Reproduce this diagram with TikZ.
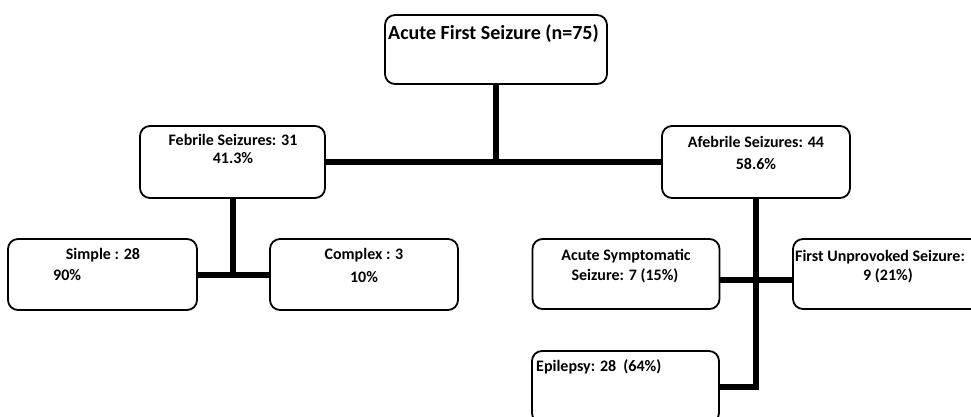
\documentclass[tikz,border=0pt]{standalone}
\usepackage{fontspec}
\setmainfont{Carlito}
\begin{document}
\begin{tikzpicture}[x=1pt,y=-1pt,
  box/.style={draw=black,line width=1.8pt,rounded corners=10pt,inner sep=0pt,outer sep=0pt,fill=white},
  conn/.style={line width=6pt,draw=black},
  lbl/.style={inner sep=0pt,font=\fontsize{16}{19}\selectfont\bfseries},
  ttl/.style={inner sep=0pt,font=\fontsize{20}{24}\selectfont\bfseries}]
\useasboundingbox (0,0) rectangle (971,417);
\clip (0,0) rectangle (971,417);
% boxes
\node[box,minimum width=222pt,minimum height=69pt] (top) at (496,49.5) {};
\node[box,minimum width=185pt,minimum height=72pt] (feb) at (232.5,162) {};
\node[box,minimum width=188pt,minimum height=72pt] (afeb) at (756,162) {};
\node[box,minimum width=189pt,minimum height=71pt] (simple) at (102.5,274.5) {};
\node[box,minimum width=188pt,minimum height=71pt] (complex) at (364,274.5) {};
\node[box,minimum width=187pt,minimum height=70pt] (acute) at (626,274) {};
\node[box,minimum width=188pt,minimum height=70pt] (first) at (887,274) {};
\node[box,minimum width=187pt,minimum height=72pt] (epi) at (625.5,387) {};
% connectors
\draw[conn] (top.south) -- (top.south |- feb.east);
\draw[conn] (feb.east) -- (afeb.west);
\draw[conn] (feb.south) -- (feb.south |- simple.east);
\draw[conn] (simple.east) -- (complex.west);
\coordinate (ah) at (acute.east |- 0,279.5);
\coordinate (fh) at (first.west |- 0,279.5);
\draw[conn] (ah) -- (fh);
\draw[conn,line join=miter] (afeb.south) |- (epi.east);
% labels
\node[ttl,anchor=base west] (tt) at (388,40) {Acute First Seizure (n=75)};
\node[lbl,anchor=base] (f1) at (233,145) {Febrile Seizures: 31};
\node[lbl,anchor=base] (f2) at (233,163.5) {41.3\%};
\node[lbl,anchor=base] (a1) at (756,147.5) {Afebrile Seizures: 44};
\node[lbl,anchor=base] (a2) at (756,169.5) {58.6\%};
\node[lbl,anchor=base] (s1) at (103,259) {Simple : 28};
\node[lbl,anchor=base west] (s2) at (53,280) {90\%};
\node[lbl,anchor=base] (c1) at (364,259) {Complex : 3};
\node[lbl,anchor=base] (c2) at (364,282) {10\%};
\node[lbl,anchor=base] (ac1) at (626,260.5) {Acute Symptomatic};
\node[lbl,anchor=base] (ac2) at (625,280.5) {Seizure: 7 (15\%)};
\node[lbl,anchor=base west] (fu1) at (795,261) {First Unprovoked Seizure:};
\node[lbl,anchor=base] (fu2) at (888,280.5) {9 (21\%)};
\node[lbl,anchor=base west] (e1) at (536,371.5) {Epilepsy: 28\ \ (64\%)};
\end{tikzpicture}
\end{document}
